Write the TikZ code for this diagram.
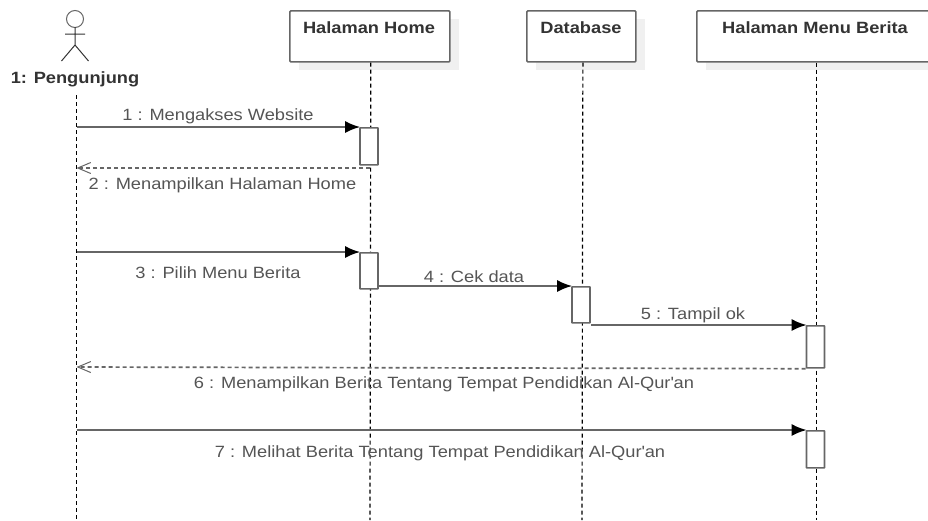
\documentclass[tikz,border=0pt]{standalone}
\usepackage{fontspec}
\setmainfont[FakeStretch=1.12]{Liberation Sans}
\usetikzlibrary{arrows.meta,calc}
\definecolor{ln}{HTML}{666666}
\definecolor{tx}{HTML}{555555}
\definecolor{hd}{HTML}{333333}
\definecolor{sh}{HTML}{F0F0F0}
\tikzset{
  lifebox/.style={draw=ln,line width=1.7pt,fill=white,rounded corners=1pt,minimum height=51pt,inner sep=0pt,anchor=north west},
  boxshadow/.style={fill=sh,draw=none,minimum height=51pt,inner sep=0pt,anchor=north west},
  act/.style={draw=ln,line width=1.7pt,fill=white,rounded corners=0.5pt,minimum width=18pt,inner sep=0pt,anchor=north},
  life/.style={draw=black,line width=1.2pt,dash pattern=on 4pt off 3pt},
  msg/.style={draw=ln,line width=1.9pt,-{Latex[length=15pt,width=12pt,black]},shorten >=-1pt},
  ret/.style={draw=ln,line width=1.7pt,dash pattern=on 4pt off 3pt,-{Straight Barb[length=13pt,width=11pt,line width=1pt]}},
  lbl/.style={text=tx,font=\fontsize{16.3}{18}\selectfont,inner sep=0pt},
  ttl/.style={text=hd,font=\bfseries\fontsize{16.3}{18}\selectfont,inner sep=0pt},
  stick/.style={draw=hd,line width=1pt}
}
\begin{document}
\begin{tikzpicture}[x=1pt,y=-1pt]
\useasboundingbox (0,0) rectangle (928,520);
\clip (0,0) rectangle (928,520);
\fill[white] (0,0) rectangle (928,520);
% shadows
\node[boxshadow,minimum width=160pt] (s1) at (299,19) {};
\node[boxshadow,minimum width=109pt] (s2) at (536,19) {};
\node[boxshadow,minimum width=241pt] (s3) at (706,19) {};
% bottoms
\coordinate (e0) at (76.5,520);
\coordinate (e1) at (370,520);
\coordinate (e2) at (582,520);
\coordinate (e3) at (816.5,520);
% lifeline heads
\node[lifebox,minimum width=160pt] (b1) at (289,10) {};
\node[lifebox,minimum width=109pt] (b2) at (526,10) {};
\node[lifebox,minimum width=241pt] (b3) at (696,10) {};
\node[ttl] (t1) at (369,27.5) {Halaman Home};
\node[ttl] (t2) at (581,27.5) {Database};
\node[ttl] (t3) at (815,27.5) {Halaman Menu Berita};
% actor
\coordinate (head) at (75,19);
\coordinate (neck) at (75,27);
\coordinate (hip) at (75,45);
\coordinate (armL) at (65,34);
\coordinate (armR) at (85,34);
\coordinate (legL) at (61.5,61);
\coordinate (legR) at (88.5,61);
\draw[stick,draw=ln] (head) circle (8.5pt);
\draw[stick] (neck) -- (hip) (armL) -- (armR) (legL) -- (hip) -- (legR);
\node[ttl] (a0) at (75,79.5) {1: Pengunjung};
\coordinate (l0) at (76.5,95);
% lifelines
\draw[life] (l0) -- (e0);
\draw[life] ($(b1.south west)!0.506!(b1.south east)$) -- (e1);
\draw[life] ($(b2.south west)!0.514!(b2.south east)$) -- (e2);
\draw[life] (b3.south west -| e3) -- (e3);
% activations
\node[act,minimum height=37pt] (a1) at (369,127) {};
\node[act,minimum height=36pt] (a2) at (369,252) {};
\node[act,minimum height=36pt] (a3) at (581,286) {};
\node[act,minimum height=42pt] (a4) at (815.5,325) {};
\node[act,minimum height=37pt] (a5) at (815.5,430) {};
% messages
\coordinate (m1) at (76.5,127);
\coordinate (m2) at (76.5,168);
\coordinate (m2s) at (370,168);
\coordinate (m3) at (76.5,252);
\coordinate (m6) at (76.5,367);
\coordinate (m7) at (76.5,430);
\draw[msg] (m1) -- (a1.north west);
\draw[ret] (m2s) -- (m2);
\draw[msg] (m3) -- (a2.north west);
\draw[msg] (a2.south east |- 0,286) -- (a3.north west);
\draw[msg] (a3.south east |- 0,325) -- (a4.north west);
\draw[ret] (a4.south west) -- (m6);
\draw[msg] (m7) -- (a5.north west);
% labels
\node[lbl] (n1) at (218,116.5) {1 : Mengakses Website};
\node[lbl] (n2) at (222.5,185) {2 : Menampilkan Halaman Home};
\node[lbl] (n3) at (218,272.5) {3 : Pilih Menu Berita};
\node[lbl] (n4) at (474,276.5) {4 : Cek data};
\node[lbl] (n5) at (693,315) {5 : Tampil ok};
\node[lbl] (n6) at (444,384) {6 : Menampilkan Berita Tentang Tempat Pendidikan Al-Qur\textquotesingle an};
\node[lbl] (n7) at (440,453) {7 : Melihat Berita Tentang Tempat Pendidikan Al-Qur\textquotesingle an};
\end{tikzpicture}
\end{document}
